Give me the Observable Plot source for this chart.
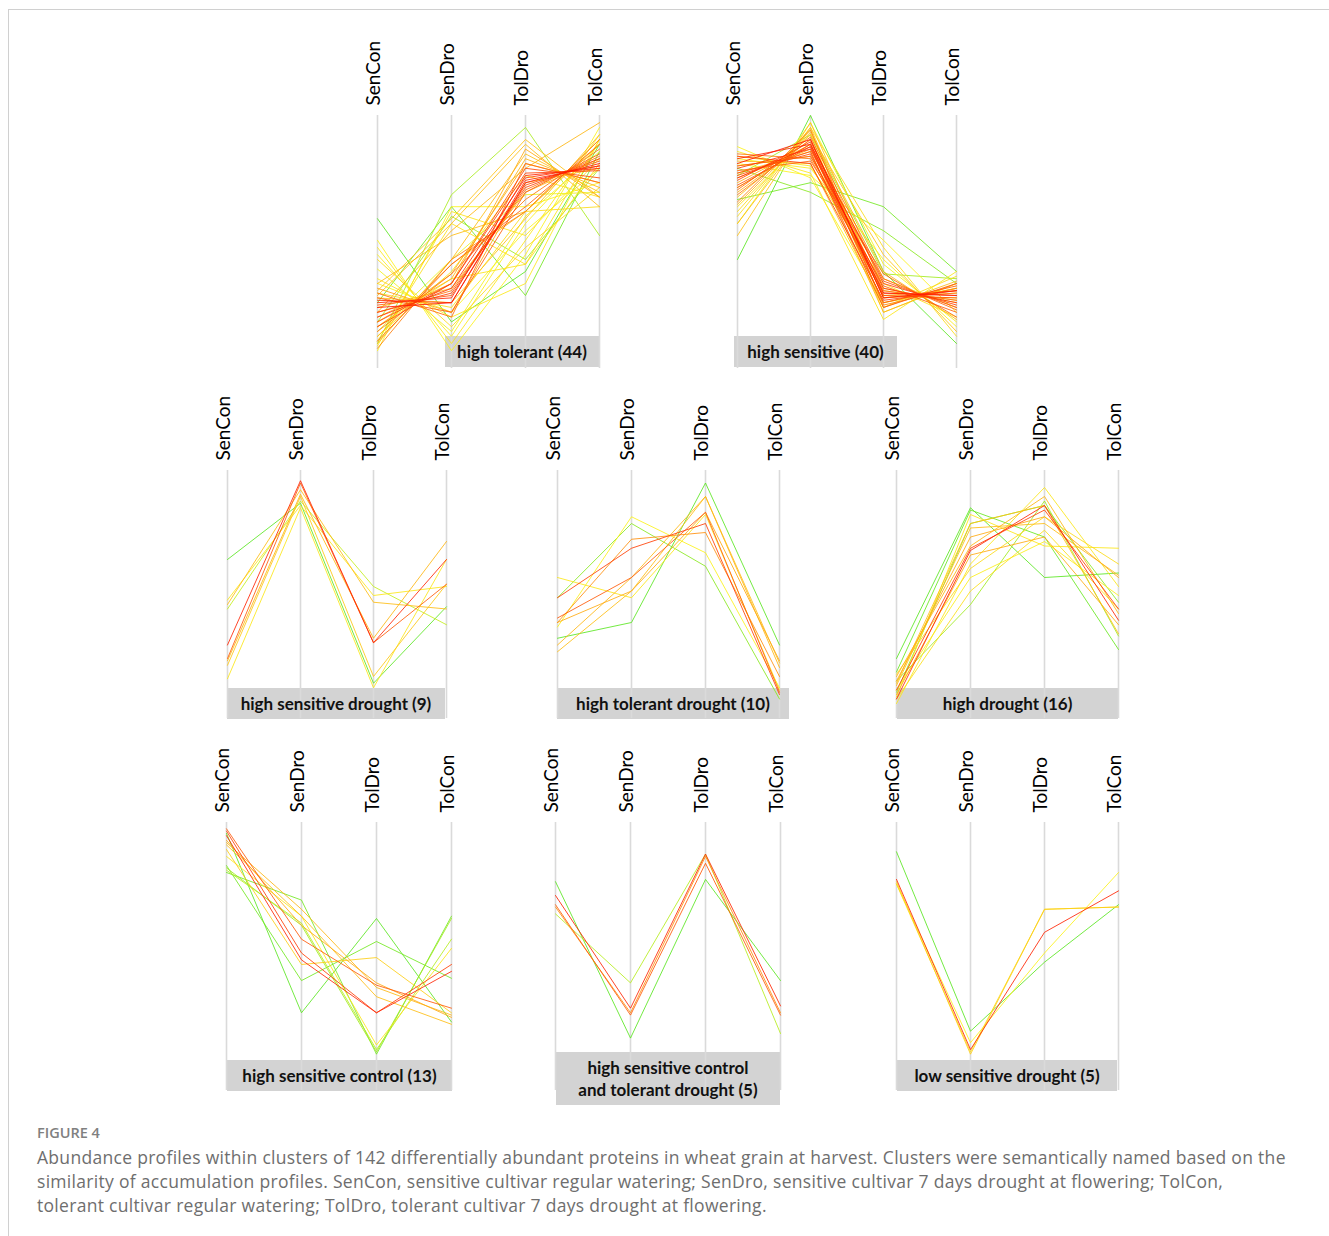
<!DOCTYPE html>
<html>
<head>
<meta charset="utf-8">
<script src="https://cdn.jsdelivr.net/npm/d3@7"></script>
<script src="https://cdn.jsdelivr.net/npm/@observablehq/plot@0.6"></script>
<style>
  body { margin: 0; background: #fff; }
  #page { position: relative; width: 1329px; height: 1236px; overflow: hidden; font-family: Lato, "Open Sans", sans-serif; }
  #frame { position: absolute; left: 8px; top: 9px; width: 1400px; height: 1400px; border-top: 1px solid #d0d0d0; border-left: 1px solid #d0d0d0; }
  .boxbg { position: absolute; z-index: 1; background: #d3d3d3; }
  .boxtext { position: absolute; z-index: 3; display: flex; align-items: center; justify-content: center; text-align: center; font-weight: bold; font-size: 17px; color: #111; line-height: 22px; }
  #caption { position: absolute; left: 37px; top: 1124px; white-space: nowrap; font-family: "Open Sans", Lato, sans-serif; }
  #caption .fig { font-size: 14.5px; line-height: 18px; color: #808080; font-weight: 600; }
  #caption .cap { margin-top: 3px; font-size: 17.5px; letter-spacing: 0.3px; line-height: 24px; color: #6e6e6e; font-weight: 400; }
</style>
</head>
<body>
<div id="page">
  <div id="frame"></div>
  <div id="caption">
    <div class="fig">FIGURE 4</div>
    <div class="cap" id="captext">Abundance profiles within clusters of 142 differentially abundant proteins in wheat grain at harvest. Clusters were semantically named based on the<br>similarity of accumulation profiles. SenCon, sensitive cultivar regular watering; SenDro, sensitive cultivar 7 days drought at flowering; TolCon,<br>tolerant cultivar regular watering; TolDro, tolerant cultivar 7 days drought at flowering.</div>
  </div>
</div>
<script>
// ---------- DATA ----------
const conditions = ["SenCon", "SenDro", "TolDro", "TolCon"];
const clusterNames = [
  "high tolerant", "high sensitive",
  "high sensitive drought", "high tolerant drought", "high drought",
  "high sensitive control", "high sensitive control\nand tolerant drought", "low sensitive drought"
];
const clusterSizes = [44, 40, 9, 10, 16, 13, 5, 5];

// each profile: [SenCon, SenDro, TolDro, TolCon, membership]
const highTolerant = [
  [57, 14, 35, 88, 0.05], [22, 62, 25, 85, 0.10], [5, 67, 95, 50, 0.22], [14, 58, 40, 78, 0.20],
  [48, 2, 42, 95, 0.40], [45, 5, 48, 92, 0.45], [42, 8, 55, 88, 0.42], [36, 10, 58, 85, 0.38],
  [2, 62, 62, 72, 0.40], [4, 60, 50, 82, 0.45], [6, 55, 38, 80, 0.48], [40, 12, 45, 70, 0.50],
  [10, 40, 67, 68, 0.36], [32, 16, 30, 90, 0.44], [8, 35, 75, 66, 0.47], [30, 18, 52, 78, 0.40],
  [26, 20, 60, 62, 0.50], [12, 32, 38, 90, 0.46],
  [27, 57, 90, 66, 0.60], [25, 55, 88, 62, 0.62], [18, 52, 78, 97, 0.65], [30, 50, 60, 88, 0.63],
  [20, 28, 68, 82, 0.68], [16, 30, 86, 66, 0.70], [14, 32, 82, 70, 0.66], [24, 22, 57, 92, 0.60],
  [8, 38, 60, 90, 0.64], [12, 34, 80, 72, 0.70], [28, 18, 72, 78, 0.72], [5, 40, 84, 68, 0.62],
  [22, 24, 75, 78, 0.95], [20, 22, 72, 80, 0.98], [18, 26, 70, 82, 0.90], [24, 18, 68, 84, 0.85],
  [16, 28, 74, 79, 0.92], [14, 30, 78, 74, 0.88], [10, 34, 65, 86, 0.80], [26, 16, 80, 72, 0.82],
  [12, 30, 76, 77, 0.90], [6, 38, 62, 88, 0.84], [21, 25, 71, 81, 0.86], [18, 27, 69, 83, 0.80],
  [3, 40, 60, 90, 0.78], [23, 22, 73, 79, 0.93]
];
const highSensitive = [
  [40, 100, 35, 5, 0.05], [65, 72, 62, 35, 0.10], [78, 68, 52, 30, 0.15], [75, 92, 34, 32, 0.20],
  [87, 74, 22, 28, 0.40], [85, 76, 15, 35, 0.45], [82, 78, 40, 12, 0.42], [58, 95, 45, 8, 0.50],
  [55, 97, 38, 14, 0.38], [62, 92, 18, 30, 0.48], [70, 88, 25, 24, 0.44], [80, 75, 48, 18, 0.40],
  [60, 94, 20, 33, 0.50], [83, 79, 30, 16, 0.46],
  [50, 97, 28, 22, 0.60], [55, 95, 24, 26, 0.62], [63, 93, 35, 15, 0.65], [68, 90, 27, 23, 0.68],
  [72, 88, 22, 28, 0.70], [79, 83, 32, 20, 0.64], [76, 85, 18, 30, 0.66], [66, 92, 42, 10, 0.60],
  [74, 86, 25, 27, 0.72], [81, 80, 20, 31, 0.63],
  [82, 88, 26, 25, 0.95], [80, 90, 24, 27, 0.98], [78, 86, 28, 22, 0.92], [76, 84, 25, 24, 0.88],
  [73, 89, 30, 21, 0.90], [71, 87, 22, 29, 0.85], [84, 82, 27, 23, 0.80], [69, 91, 32, 19, 0.82],
  [75, 85, 20, 30, 0.86], [79, 83, 29, 18, 0.84], [67, 90, 24, 26, 0.80], [64, 94, 21, 28, 0.78],
  [77, 81, 34, 16, 0.83], [83, 80, 23, 27, 0.90], [70, 88, 31, 20, 0.87], [74, 87, 26, 25, 0.93]
];
const highSensitiveDrought = [
  [64, 89, 9, 43, 0.05], [42, 90, 52, 35, 0.28], [46, 88, 48, 52, 0.45], [44, 95, 45, 42, 0.62],
  [26, 99, 27, 64, 0.95], [20, 98, 27, 53, 0.85], [19, 93, 29, 72, 0.65], [17, 92, 12, 53, 0.58],
  [11, 87, 7, 64, 0.45]
];
const highTolerantDrought = [
  [47, 80, 61, 2, 0.15], [29, 36, 98, 26, 0.05], [56, 47, 84, 6, 0.45], [34, 83, 67, 7, 0.40],
  [23, 50, 92, 18, 0.62], [26, 56, 92, 16, 0.65], [36, 73, 76, 12, 0.75], [47, 69, 80, 4, 0.90],
  [38, 56, 85, 5, 0.85], [36, 50, 85, 19, 0.70]
];
const highDrought = [
  [20, 87, 56, 58, 0.05], [14, 86, 74, 24, 0.08], [10, 44, 90, 30, 0.20], [5, 80, 88, 45, 0.15],
  [3, 84, 70, 69, 0.45], [0, 62, 96, 52, 0.45], [6, 56, 72, 48, 0.42], [2, 50, 77, 42, 0.48],
  [8, 78, 80, 57, 0.62], [12, 70, 92, 40, 0.65], [4, 66, 74, 35, 0.70], [9, 80, 88, 31, 0.60],
  [2, 68, 88, 37, 0.95], [6, 69, 86, 42, 0.90], [10, 74, 83, 56, 0.70], [13, 60, 83, 62, 0.50]
];
const highSensitiveControl = [
  [80, 68, 1, 61, 0.10], [97, 19, 60, 15, 0.05], [83, 33, 50, 34, 0.10], [81, 58, 3, 51, 0.25],
  [87, 61, 5, 47, 0.45], [90, 40, 43, 19, 0.55], [93, 64, 30, 18, 0.65], [92, 61, 26, 14, 0.62],
  [99, 51, 31, 21, 0.85], [98, 45, 19, 40, 0.90], [96, 42, 19, 37, 0.95], [94, 57, 32, 17, 0.70],
  [82, 57, 2, 60, 0.20]
];
const controlAndTolDrought = [
  [76, 8, 77, 33, 0.05], [62, 32, 88, 10, 0.25], [70, 21, 88, 22, 0.95], [66, 18, 84, 18, 0.85],
  [65, 19, 87, 19, 0.75]
];
const lowSensitiveDrought = [
  [89, 11, 41, 66, 0.05], [77, 3, 54, 72, 0.95], [75, 6, 45, 80, 0.40], [75, 2, 64, 65, 0.50],
  [76, 1, 64, 65, 0.55]
];
const clusters = [highTolerant, highSensitive, highSensitiveDrought, highTolerantDrought, highDrought,
  highSensitiveControl, controlAndTolDrought, lowSensitiveDrought];

// ---------- LAYOUT ----------
const rowsLayout = [
  {top: 30, height: 345, mt: 85, mb: 7, y0: 325, y100: 85},
  {top: 385, height: 340, mt: 85, mb: 7, y0: 318, y100: 93},
  {top: 735, height: 362, mt: 87, mb: 7, y0: 321, y100: 91}
];
const panelLayout = [
  {row: 0, x0: 377, step: 74, box: [445, 336, 154, 31]},
  {row: 0, x0: 736, step: 73.7, box: [734, 336, 163, 31]},
  {row: 1, x0: 226, step: 73.7, box: [227, 688, 218, 31]},
  {row: 1, x0: 557, step: 74, box: [557, 688, 232, 31]},
  {row: 1, x0: 896, step: 74, box: [897, 688, 221, 31]},
  {row: 2, x0: 226, step: 75.3, box: [227, 1060, 225, 31]},
  {row: 2, x0: 555, step: 75, box: [556, 1052, 224, 53]},
  {row: 2, x0: 896, step: 74, box: [897, 1060, 220, 31]}
];
const pad = 30;

const page = document.getElementById("page");
clusters.forEach((rows, k) => {
  const L = panelLayout[k], R = rowsLayout[L.row];
  const sorted = rows.map((r, i) => ({r, i})).sort((a, b) => a.r[4] - b.r[4]);
  const long = sorted.flatMap(({r, i}) => conditions.map((c, j) => ({cond: c, value: r[j], id: i, m: r[4]})));
  const w = L.step * 3 + 2 * pad;
  const svg = Plot.plot({
    width: w, height: R.height,
    marginTop: R.mt, marginBottom: R.mb, marginLeft: pad, marginRight: pad,
    x: {type: "point", domain: conditions, range: [pad, pad + 3 * L.step], padding: 0, align: 0.5, axis: null},
    y: {domain: [0, 100], range: [R.y0, R.y100], axis: null},
    color: {type: "linear", domain: [0, 0.4, 0.7, 1], range: ["#44e422", "#fbf21a", "#ffaa10", "#ff0a00"], interpolate: "rgb"},
    style: {background: "transparent", overflow: "visible", fontFamily: "Lato, 'Open Sans', sans-serif"},
    marks: [
      Plot.ruleX(conditions, {x: d => d, stroke: "#dadada", strokeWidth: 1.6}),
      Plot.line(long, {x: "cond", y: "value", z: "id", stroke: "m", strokeWidth: 1, strokeOpacity: 0.85}),
      Plot.text(conditions, {x: d => d, text: d => d, frameAnchor: "top", rotate: -90, textAnchor: "start", dy: -10, dx: -11, fontSize: 19, fill: "#000"})
    ]
  });
  svg.style.left = (L.x0 - pad) + "px";
  svg.style.top = R.top + "px";
  svg.style.position = "absolute";
  svg.style.zIndex = 2;
  page.appendChild(svg);

  const [bx, by, bw, bh] = L.box;
  const bg = document.createElement("div");
  bg.className = "boxbg";
  const tx = document.createElement("div");
  tx.className = "boxtext";
  for (const el of [bg, tx]) {
    el.style.left = bx + "px"; el.style.top = by + "px";
    el.style.width = bw + "px"; el.style.height = bh + "px";
  }
  tx.innerHTML = (clusterNames[k] + " (" + clusterSizes[k] + ")").replace("\n", "<br>");
  page.appendChild(bg);
  page.appendChild(tx);
});
</script>
</body>
</html>
